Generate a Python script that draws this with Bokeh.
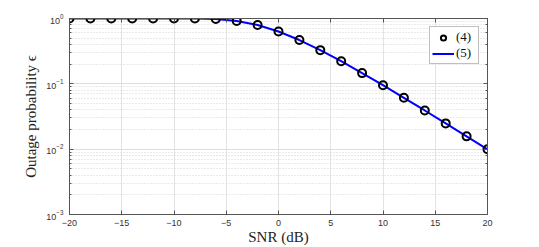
from bokeh.plotting import figure
from bokeh.models import (LogAxis, LinearAxis, Legend, LegendItem, FixedTicker,
                          ColumnDataSource, CustomJSTickFormatter)
from bokeh.embed import file_html
from bokeh.resources import INLINE

snr_db = [-20, -18, -16, -14, -12, -10, -8, -6, -4, -2, 0, 2, 4, 6, 8, 10, 12, 14, 16, 18, 20]
outage_sim = [1.0, 1.0, 1.0, 1.0, 1.0, 0.99995, 0.998, 0.981, 0.919, 0.795, 0.632,
              0.468, 0.328, 0.222, 0.146, 0.0952, 0.0611, 0.0391, 0.0248, 0.0157, 0.00995]
outage_theory = list(outage_sim)
x_ticks = [-20, -15, -10, -5, 0, 5, 10, 15, 20]

src = ColumnDataSource(dict(x=snr_db, sim=outage_sim, th=outage_theory))

p = figure(width=539, height=247, output_backend="svg", toolbar_location=None,
           y_axis_type="log", x_range=(-20, 20), y_range=(1e-3, 1.0),
           min_border_left=69, min_border_right=52, min_border_top=18, min_border_bottom=31)
p.background_fill_color = "white"
p.border_fill_color = "white"
p.outline_line_color = "#555555"
p.outline_line_width = 1

ln = p.line("x", "th", source=src, line_color="#0000ff", line_width=2)
mk = p.scatter("x", "sim", source=src, marker="circle", size=8, line_color="black",
               line_width=2, fill_alpha=0)

axis_col = "#555555"
tick_font = "Liberation Sans"
for ax in (p.xaxis[0], p.yaxis[0]):
    ax.axis_line_color = axis_col
    ax.major_tick_line_color = axis_col
    ax.minor_tick_line_color = axis_col
    ax.major_tick_in = 4
    ax.major_tick_out = 0
    ax.minor_tick_in = 2
    ax.minor_tick_out = 0
    ax.major_label_text_font = tick_font
    ax.major_label_text_font_size = "9px"
    ax.major_label_text_color = "#333333"
    ax.axis_label_text_font = "Liberation Serif"
    ax.axis_label_text_font_size = "15px"
    ax.axis_label_text_font_style = "normal"
    ax.axis_label_text_color = "#222222"

p.xaxis[0].ticker = FixedTicker(ticks=x_ticks)
p.xaxis[0].minor_tick_in = 0
p.xaxis[0].axis_label = "SNR (dB)"
p.xaxis[0].axis_label_standoff = 0
p.xaxis[0].major_label_standoff = 5
p.yaxis[0].axis_label = "Outage probability \u03f5"
p.yaxis[0].axis_label_standoff = 4
p.yaxis[0].major_label_standoff = 6

blank = CustomJSTickFormatter(code="return ''")
top = LinearAxis(ticker=FixedTicker(ticks=x_ticks), formatter=blank,
                 axis_line_color=axis_col, major_tick_line_color=axis_col,
                 major_tick_in=4, major_tick_out=0, minor_tick_in=0, minor_tick_out=0,
                 major_label_standoff=0)
p.add_layout(top, "above")
right = LogAxis(formatter=CustomJSTickFormatter(code="return ''"),
                axis_line_color=axis_col, major_tick_line_color=axis_col,
                minor_tick_line_color=axis_col, major_label_standoff=0,
                major_tick_in=4, major_tick_out=0, minor_tick_in=2, minor_tick_out=0)
p.add_layout(right, "right")

p.xgrid.grid_line_color = "#e3e3e3"
p.xgrid.ticker = FixedTicker(ticks=x_ticks)
p.ygrid.grid_line_color = "#dddddd"
p.ygrid.minor_grid_line_color = "#d5d5d5"
p.ygrid.minor_grid_line_dash = "1 2"

legend = Legend(items=[LegendItem(label="(4)", renderers=[mk]),
                       LegendItem(label="(5)", renderers=[ln])],
                location="top_right")
legend.label_text_font = "Liberation Serif"
legend.label_text_font_size = "13px"
legend.label_text_color = "#111111"
legend.border_line_color = "#808080"
legend.border_line_width = 1
legend.background_fill_alpha = 1
legend.margin = 8
legend.padding = 2
legend.spacing = 0
legend.glyph_width = 22
legend.glyph_height = 13
legend.label_height = 13
legend.label_standoff = 2
p.add_layout(legend)

open("out.html", "w").write(file_html(p, INLINE))
